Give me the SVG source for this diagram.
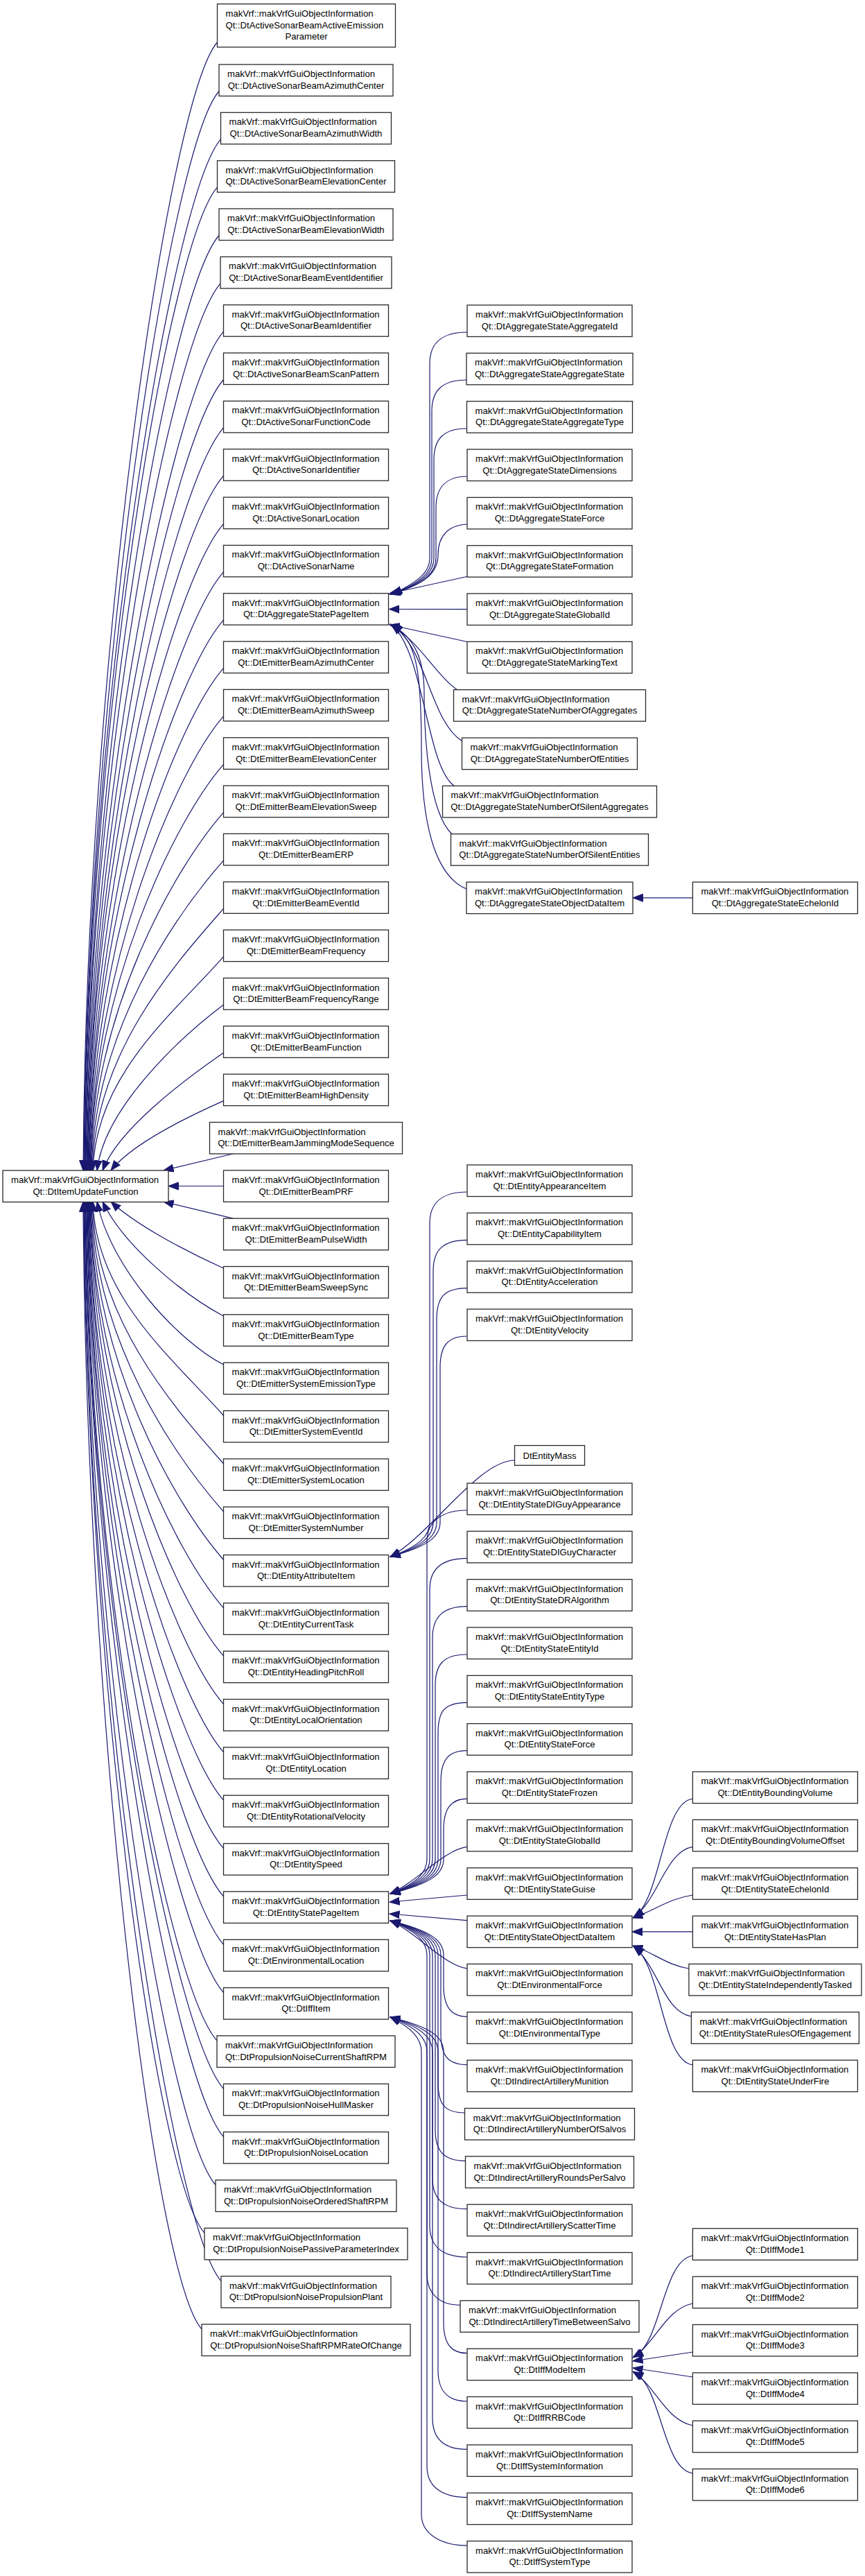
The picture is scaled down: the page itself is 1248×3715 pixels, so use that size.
<svg xmlns="http://www.w3.org/2000/svg" width="1248" height="3715" viewBox="0 0 1248 3715">
<style>
rect{fill:#fff;stroke:#2a2a2a;stroke-width:1.3}
text{font-family:"Liberation Sans",Arial,Helvetica,sans-serif;font-size:13.1px;fill:#000}
.c{text-anchor:middle}
.e path{fill:none;stroke:#191970;stroke-width:1.2;marker-end:url(#a)}
</style>
<defs>
<marker id="a" markerUnits="userSpaceOnUse" markerWidth="16" markerHeight="12" viewBox="0 0 16 12" refX="14.5" refY="6" orient="auto"><path d="M0,0.5 L14.5,6 L0,11.5 z" fill="#191970" stroke="#191970" stroke-width="1"/></marker>
</defs>
<rect x="0" y="0" width="1248" height="3715" style="fill:#fff;stroke:none"/>
<g id="edges" class="e">
<path d="M313.5,61 C243.5,141 124,956 120,1688"/>
<path d="M316,131.5 C246,211.5 125,988 121,1688"/>
<path d="M318.5,200.8 C248.5,280.8 125,1019 121,1688"/>
<path d="M313.5,270.2 C243.5,350.2 126,1050 122,1688"/>
<path d="M316,339.5 C246,419.5 127,1081 123,1688"/>
<path d="M318,408.9 C248,488.9 127,1112 123,1688"/>
<path d="M322.5,478.2 C252.5,558.2 128,1144 124,1688"/>
<path d="M322.5,547.5 C252.5,627.5 129,1175 125,1688"/>
<path d="M322.5,616.9 C252.5,696.9 130,1206 126,1688"/>
<path d="M322.5,686.2 C252.5,766.2 130,1237 126,1688"/>
<path d="M322.5,755.6 C252.5,835.6 131,1268 127,1688"/>
<path d="M322.5,824.9 C252.5,904.9 132,1300 128,1688"/>
<path d="M322.5,894.2 C252.5,974.2 132,1331 128,1688"/>
<path d="M322.5,963.6 C252.5,1043.6 133,1362 129,1688"/>
<path d="M322.5,1032.9 C252.5,1112.9 134,1393 130,1688"/>
<path d="M322.5,1102.3 C252.5,1182.3 134,1424 130,1688"/>
<path d="M322.5,1171.6 C252.5,1251.6 135,1456 131,1688"/>
<path d="M322.5,1240.9 C252.5,1320.9 136,1487 132,1688"/>
<path d="M322.5,1310.3 C252.5,1390.3 137,1518 133,1688"/>
<path d="M322.5,1379.6 C252.5,1459.6 138,1549 134,1688"/>
<path d="M322.5,1449 C255,1500 150,1600 140,1688"/>
<path d="M322.5,1518.3 C262,1560 170,1630 148,1688"/>
<path d="M322.5,1587.6 C272,1610 190,1650 160,1688"/>
<path d="M336,1664 L236,1688"/>
<path d="M322.5,1710.5 L243,1710.5"/>
<path d="M336,1757.2 L236,1733"/>
<path d="M322.5,1829 C280,1810 200,1770 160,1733"/>
<path d="M322.5,1898 C270,1870 180,1800 148,1733"/>
<path d="M322.5,1968 C258,1935 160,1830 140,1733"/>
<path d="M322.5,2041.5 C252.5,1961.5 138,1872 134,1733"/>
<path d="M322.5,2110.9 C252.5,2030.9 137,1903 133,1733"/>
<path d="M322.5,2180.2 C252.5,2100.2 136,1934 132,1733"/>
<path d="M322.5,2249.5 C252.5,2169.5 135,1965 131,1733"/>
<path d="M322.5,2318.9 C252.5,2238.9 134,1997 130,1733"/>
<path d="M322.5,2388.2 C252.5,2308.2 134,2028 130,1733"/>
<path d="M322.5,2457.6 C252.5,2377.6 133,2059 129,1733"/>
<path d="M322.5,2526.9 C252.5,2446.9 132,2090 128,1733"/>
<path d="M322.5,2596.2 C252.5,2516.2 132,2121 128,1733"/>
<path d="M322.5,2665.6 C252.5,2585.6 131,2153 127,1733"/>
<path d="M322.5,2734.9 C252.5,2654.9 130,2184 126,1733"/>
<path d="M322.5,2804.3 C252.5,2724.3 130,2215 126,1733"/>
<path d="M322.5,2873.6 C252.5,2793.6 129,2246 125,1733"/>
<path d="M313,2942.9 C243,2862.9 128,2277 124,1733"/>
<path d="M322.5,3012.3 C252.5,2932.3 127,2309 123,1733"/>
<path d="M322.5,3081.6 C252.5,3001.6 127,2340 123,1733"/>
<path d="M311,3151 C241,3071 126,2371 122,1733"/>
<path d="M295,3220.3 C225,3140.3 125,2402 121,1733"/>
<path d="M319,3289.6 C249,3209.6 125,2433 121,1733"/>
<path d="M291,3359 C221,3279 124,2465 120,1733"/>
<path d="M674,479 C639,479 620,494 620,524 L620,805 C620,825 605,838 566,857"/>
<path d="M673,548 C638,548 623,563 623,593 L623,805 C623,825 608,840 565,857"/>
<path d="M673.5,618 C640,618 626,633 626,663 L626,805 C626,825 611,841 564,857"/>
<path d="M674,687 C645,687 629,702 629,732 L629,805 C629,825 614,842 563,857"/>
<path d="M674,756 C648,757 632,772 632,800 C632,825 615,843 562,857"/>
<path d="M676,831 L562,856"/>
<path d="M674,878.7 L561.5,878.5"/>
<path d="M676,926 L562,901"/>
<path d="M660,995 C630,975 605,925 563,900"/>
<path d="M667,1069 C620,1040 615,930 564,901"/>
<path d="M655,1133 C615,1105 612,940 565,901"/>
<path d="M652,1203 C618,1170 612,1060 612,1000 C612,950 598,920 565,901"/>
<path d="M673,1282 C625,1262 608,1180 608,1080 C608,960 600,925 566,901"/>
<path d="M999.4,1294.8 L913,1294.8"/>
<path d="M674,1719 C639,1719 620,1734 620,1764 L620,2195 C620,2215 605,2230 563,2245"/>
<path d="M674,1788.3 C639,1788.3 625,1803 625,1833 L625,2195 C625,2215 610,2230 563,2245"/>
<path d="M674,1857.7 C639,1857.7 630,1873 630,1903 L630,2195 C630,2215 615,2230 563,2245"/>
<path d="M674,1927 C645,1927 635,1942 635,1972 L635,2195 C635,2215 620,2230 563,2245"/>
<path d="M742.5,2106 C690,2106 620,2215 563,2245"/>
<path d="M674,2178 C639,2178 616,2193 616,2223 L616,2681 C616,2701 601,2716 563,2731"/>
<path d="M674,2247.3 C639,2247.3 620,2262 620,2292 L620,2681 C620,2701 605,2716 563,2731"/>
<path d="M674,2316.7 C639,2316.7 624,2332 624,2362 L624,2681 C624,2701 609,2716 563,2731"/>
<path d="M674,2386 C639,2386 628,2401 628,2431 L628,2681 C628,2701 613,2716 563,2731"/>
<path d="M674,2455.4 C639,2455.4 632,2470 632,2500 L632,2681 C632,2701 617,2716 563,2731"/>
<path d="M674,2524.7 C645,2524.7 636,2540 636,2570 L636,2681 C636,2701 621,2716 563,2731"/>
<path d="M674,2594.1 C650,2594.1 640,2609 640,2639 L640,2681 C640,2701 625,2716 563,2731"/>
<path d="M674,2663.4 C640,2668 600,2715 563,2731"/>
<path d="M674,2733 L562,2743"/>
<path d="M674,2769.6 L562,2760"/>
<path d="M674,2838.9 C640,2834 600,2786 563,2770"/>
<path d="M674,2908.3 C650,2908.3 640,2893 640,2863 L640,2820 C640,2800 625,2785 563,2770"/>
<path d="M674,2977.6 C645,2977.6 636,2963 636,2933 L636,2820 C636,2800 621,2785 563,2770"/>
<path d="M670.5,3047 C639,3047 632,3032 632,3002 L632,2820 C632,2800 617,2785 563,2770"/>
<path d="M671.5,3116.3 C639,3116.3 628,3101 628,3071 L628,2820 C628,2800 613,2785 563,2770"/>
<path d="M674,3185.7 C639,3185.7 624,3171 624,3141 L624,2820 C624,2800 609,2785 563,2770"/>
<path d="M674,3255 C639,3255 620,3240 620,3210 L620,2820 C620,2800 605,2785 563,2770"/>
<path d="M664,3324.3 C635,3324.3 616,3309 616,3279 L616,2820 C616,2800 601,2785 563,2770"/>
<path d="M674,3393.7 C650,3393.7 640,3379 640,3349 L640,2959 C640,2939 625,2924 563,2909"/>
<path d="M674,3463 C645,3463 632,3448 632,3418 L632,2959 C632,2939 617,2924 563,2909"/>
<path d="M674,3532.4 C640,3532.4 624,3517 624,3487 L624,2959 C624,2939 609,2924 563,2909"/>
<path d="M674,3601.7 C639,3601.7 616,3587 616,3557 L616,2959 C616,2939 601,2924 563,2909"/>
<path d="M674,3671.1 C639,3671.1 608,3656 608,3626 L608,2959 C608,2939 593,2924 563,2909"/>
<path d="M999.4,2594 C955,2600 955,2735 915,2765"/>
<path d="M999.4,2663.4 C960,2670 950,2740 914,2765"/>
<path d="M999.4,2733 C965,2738 945,2755 913,2766"/>
<path d="M999.4,2785.9 L912,2785.9"/>
<path d="M993.9,2839 C962,2834 945,2817 913,2806"/>
<path d="M997.4,2908 C958,2902 950,2836 914,2807"/>
<path d="M999.4,2978 C955,2972 955,2837 915,2807"/>
<path d="M999.4,3253 C955,3260 955,3380 914,3399"/>
<path d="M999.4,3322 C960,3330 945,3380 913,3400"/>
<path d="M999.4,3392 L913,3405"/>
<path d="M999.4,3428 L913,3415"/>
<path d="M999.4,3498 C960,3490 945,3440 913,3420"/>
<path d="M999.4,3567 C955,3560 955,3440 914,3421"/>
</g>
<g id="root"><rect x="4" y="1688" width="239" height="45.5"/><text x="16" y="1706">makVrf::makVrfGuiObjectInformation</text><text class="c" x="123.5" y="1722.7">Qt::DtItemUpdateFunction</text></g>
<g id="c2_1"><rect x="313.5" y="5.7" width="257" height="62.3"/><text x="325.5" y="23.7">makVrf::makVrfGuiObjectInformation</text><text x="325.5" y="40.5">Qt::DtActiveSonarBeamActiveEmission</text><text class="c" x="442" y="57.3">Parameter</text></g>
<g id="c2_2"><rect x="316" y="93" width="251" height="45.5"/><text x="328" y="111">makVrf::makVrfGuiObjectInformation</text><text class="c" x="441.5" y="127.7">Qt::DtActiveSonarBeamAzimuthCenter</text></g>
<g id="c2_3"><rect x="318.5" y="162.3" width="246" height="45.5"/><text x="330.5" y="180.3">makVrf::makVrfGuiObjectInformation</text><text class="c" x="441.5" y="197">Qt::DtActiveSonarBeamAzimuthWidth</text></g>
<g id="c2_4"><rect x="313.5" y="231.7" width="256" height="45.5"/><text x="325.5" y="249.7">makVrf::makVrfGuiObjectInformation</text><text class="c" x="441.5" y="266.4">Qt::DtActiveSonarBeamElevationCenter</text></g>
<g id="c2_5"><rect x="316" y="301" width="251" height="45.5"/><text x="328" y="319">makVrf::makVrfGuiObjectInformation</text><text class="c" x="441.5" y="335.7">Qt::DtActiveSonarBeamElevationWidth</text></g>
<g id="c2_6"><rect x="318" y="370.4" width="247" height="45.5"/><text x="330" y="388.4">makVrf::makVrfGuiObjectInformation</text><text class="c" x="441.5" y="405.1">Qt::DtActiveSonarBeamEventIdentifier</text></g>
<g id="c2_7"><rect x="322.5" y="439.7" width="238" height="45.5"/><text x="334.5" y="457.7">makVrf::makVrfGuiObjectInformation</text><text class="c" x="441.5" y="474.4">Qt::DtActiveSonarBeamIdentifier</text></g>
<g id="c2_8"><rect x="322.5" y="509" width="238" height="45.5"/><text x="334.5" y="527">makVrf::makVrfGuiObjectInformation</text><text class="c" x="441.5" y="543.7">Qt::DtActiveSonarBeamScanPattern</text></g>
<g id="c2_9"><rect x="322.5" y="578.4" width="238" height="45.5"/><text x="334.5" y="596.4">makVrf::makVrfGuiObjectInformation</text><text class="c" x="441.5" y="613.1">Qt::DtActiveSonarFunctionCode</text></g>
<g id="c2_10"><rect x="322.5" y="647.7" width="238" height="45.5"/><text x="334.5" y="665.7">makVrf::makVrfGuiObjectInformation</text><text class="c" x="441.5" y="682.4">Qt::DtActiveSonarIdentifier</text></g>
<g id="c2_11"><rect x="322.5" y="717.1" width="238" height="45.5"/><text x="334.5" y="735.1">makVrf::makVrfGuiObjectInformation</text><text class="c" x="441.5" y="751.8">Qt::DtActiveSonarLocation</text></g>
<g id="c2_12"><rect x="322.5" y="786.4" width="238" height="45.5"/><text x="334.5" y="804.4">makVrf::makVrfGuiObjectInformation</text><text class="c" x="441.5" y="821.1">Qt::DtActiveSonarName</text></g>
<g id="c2_13"><rect x="322.5" y="855.7" width="238" height="45.5"/><text x="334.5" y="873.7">makVrf::makVrfGuiObjectInformation</text><text class="c" x="441.5" y="890.4">Qt::DtAggregateStatePageItem</text></g>
<g id="c2_14"><rect x="322.5" y="925.1" width="238" height="45.5"/><text x="334.5" y="943.1">makVrf::makVrfGuiObjectInformation</text><text class="c" x="441.5" y="959.8">Qt::DtEmitterBeamAzimuthCenter</text></g>
<g id="c2_15"><rect x="322.5" y="994.4" width="238" height="45.5"/><text x="334.5" y="1012.4">makVrf::makVrfGuiObjectInformation</text><text class="c" x="441.5" y="1029.1">Qt::DtEmitterBeamAzimuthSweep</text></g>
<g id="c2_16"><rect x="322.5" y="1063.8" width="238" height="45.5"/><text x="334.5" y="1081.8">makVrf::makVrfGuiObjectInformation</text><text class="c" x="441.5" y="1098.5">Qt::DtEmitterBeamElevationCenter</text></g>
<g id="c2_17"><rect x="322.5" y="1133.1" width="238" height="45.5"/><text x="334.5" y="1151.1">makVrf::makVrfGuiObjectInformation</text><text class="c" x="441.5" y="1167.8">Qt::DtEmitterBeamElevationSweep</text></g>
<g id="c2_18"><rect x="322.5" y="1202.4" width="238" height="45.5"/><text x="334.5" y="1220.4">makVrf::makVrfGuiObjectInformation</text><text class="c" x="441.5" y="1237.1">Qt::DtEmitterBeamERP</text></g>
<g id="c2_19"><rect x="322.5" y="1271.8" width="238" height="45.5"/><text x="334.5" y="1289.8">makVrf::makVrfGuiObjectInformation</text><text class="c" x="441.5" y="1306.5">Qt::DtEmitterBeamEventId</text></g>
<g id="c2_20"><rect x="322.5" y="1341.1" width="238" height="45.5"/><text x="334.5" y="1359.1">makVrf::makVrfGuiObjectInformation</text><text class="c" x="441.5" y="1375.8">Qt::DtEmitterBeamFrequency</text></g>
<g id="c2_21"><rect x="322.5" y="1410.5" width="238" height="45.5"/><text x="334.5" y="1428.5">makVrf::makVrfGuiObjectInformation</text><text class="c" x="441.5" y="1445.2">Qt::DtEmitterBeamFrequencyRange</text></g>
<g id="c2_22"><rect x="322.5" y="1479.8" width="238" height="45.5"/><text x="334.5" y="1497.8">makVrf::makVrfGuiObjectInformation</text><text class="c" x="441.5" y="1514.5">Qt::DtEmitterBeamFunction</text></g>
<g id="c2_23"><rect x="322.5" y="1549.1" width="238" height="45.5"/><text x="334.5" y="1567.1">makVrf::makVrfGuiObjectInformation</text><text class="c" x="441.5" y="1583.8">Qt::DtEmitterBeamHighDensity</text></g>
<g id="c2_24"><rect x="302.5" y="1618.5" width="278" height="45.5"/><text x="314.5" y="1636.5">makVrf::makVrfGuiObjectInformation</text><text class="c" x="441.5" y="1653.2">Qt::DtEmitterBeamJammingModeSequence</text></g>
<g id="c2_25"><rect x="322.5" y="1687.8" width="238" height="45.5"/><text x="334.5" y="1705.8">makVrf::makVrfGuiObjectInformation</text><text class="c" x="441.5" y="1722.5">Qt::DtEmitterBeamPRF</text></g>
<g id="c2_26"><rect x="322.5" y="1757.2" width="238" height="45.5"/><text x="334.5" y="1775.2">makVrf::makVrfGuiObjectInformation</text><text class="c" x="441.5" y="1791.9">Qt::DtEmitterBeamPulseWidth</text></g>
<g id="c2_27"><rect x="322.5" y="1826.5" width="238" height="45.5"/><text x="334.5" y="1844.5">makVrf::makVrfGuiObjectInformation</text><text class="c" x="441.5" y="1861.2">Qt::DtEmitterBeamSweepSync</text></g>
<g id="c2_28"><rect x="322.5" y="1895.8" width="238" height="45.5"/><text x="334.5" y="1913.8">makVrf::makVrfGuiObjectInformation</text><text class="c" x="441.5" y="1930.5">Qt::DtEmitterBeamType</text></g>
<g id="c2_29"><rect x="322.5" y="1965.2" width="238" height="45.5"/><text x="334.5" y="1983.2">makVrf::makVrfGuiObjectInformation</text><text class="c" x="441.5" y="1999.9">Qt::DtEmitterSystemEmissionType</text></g>
<g id="c2_30"><rect x="322.5" y="2034.5" width="238" height="45.5"/><text x="334.5" y="2052.5">makVrf::makVrfGuiObjectInformation</text><text class="c" x="441.5" y="2069.2">Qt::DtEmitterSystemEventId</text></g>
<g id="c2_31"><rect x="322.5" y="2103.9" width="238" height="45.5"/><text x="334.5" y="2121.9">makVrf::makVrfGuiObjectInformation</text><text class="c" x="441.5" y="2138.6">Qt::DtEmitterSystemLocation</text></g>
<g id="c2_32"><rect x="322.5" y="2173.2" width="238" height="45.5"/><text x="334.5" y="2191.2">makVrf::makVrfGuiObjectInformation</text><text class="c" x="441.5" y="2207.9">Qt::DtEmitterSystemNumber</text></g>
<g id="c2_33"><rect x="322.5" y="2242.5" width="238" height="45.5"/><text x="334.5" y="2260.5">makVrf::makVrfGuiObjectInformation</text><text class="c" x="441.5" y="2277.2">Qt::DtEntityAttributeItem</text></g>
<g id="c2_34"><rect x="322.5" y="2311.9" width="238" height="45.5"/><text x="334.5" y="2329.9">makVrf::makVrfGuiObjectInformation</text><text class="c" x="441.5" y="2346.6">Qt::DtEntityCurrentTask</text></g>
<g id="c2_35"><rect x="322.5" y="2381.2" width="238" height="45.5"/><text x="334.5" y="2399.2">makVrf::makVrfGuiObjectInformation</text><text class="c" x="441.5" y="2415.9">Qt::DtEntityHeadingPitchRoll</text></g>
<g id="c2_36"><rect x="322.5" y="2450.6" width="238" height="45.5"/><text x="334.5" y="2468.6">makVrf::makVrfGuiObjectInformation</text><text class="c" x="441.5" y="2485.3">Qt::DtEntityLocalOrientation</text></g>
<g id="c2_37"><rect x="322.5" y="2519.9" width="238" height="45.5"/><text x="334.5" y="2537.9">makVrf::makVrfGuiObjectInformation</text><text class="c" x="441.5" y="2554.6">Qt::DtEntityLocation</text></g>
<g id="c2_38"><rect x="322.5" y="2589.2" width="238" height="45.5"/><text x="334.5" y="2607.2">makVrf::makVrfGuiObjectInformation</text><text class="c" x="441.5" y="2623.9">Qt::DtEntityRotationalVelocity</text></g>
<g id="c2_39"><rect x="322.5" y="2658.6" width="238" height="45.5"/><text x="334.5" y="2676.6">makVrf::makVrfGuiObjectInformation</text><text class="c" x="441.5" y="2693.3">Qt::DtEntitySpeed</text></g>
<g id="c2_40"><rect x="322.5" y="2727.9" width="238" height="45.5"/><text x="334.5" y="2745.9">makVrf::makVrfGuiObjectInformation</text><text class="c" x="441.5" y="2762.6">Qt::DtEntityStatePageItem</text></g>
<g id="c2_41"><rect x="322.5" y="2797.3" width="238" height="45.5"/><text x="334.5" y="2815.3">makVrf::makVrfGuiObjectInformation</text><text class="c" x="441.5" y="2832">Qt::DtEnvironmentalLocation</text></g>
<g id="c2_42"><rect x="322.5" y="2866.6" width="238" height="45.5"/><text x="334.5" y="2884.6">makVrf::makVrfGuiObjectInformation</text><text class="c" x="441.5" y="2901.3">Qt::DtIffItem</text></g>
<g id="c2_43"><rect x="313" y="2935.9" width="257" height="45.5"/><text x="325" y="2953.9">makVrf::makVrfGuiObjectInformation</text><text class="c" x="441.5" y="2970.6">Qt::DtPropulsionNoiseCurrentShaftRPM</text></g>
<g id="c2_44"><rect x="322.5" y="3005.3" width="238" height="45.5"/><text x="334.5" y="3023.3">makVrf::makVrfGuiObjectInformation</text><text class="c" x="441.5" y="3040">Qt::DtPropulsionNoiseHullMasker</text></g>
<g id="c2_45"><rect x="322.5" y="3074.6" width="238" height="45.5"/><text x="334.5" y="3092.6">makVrf::makVrfGuiObjectInformation</text><text class="c" x="441.5" y="3109.3">Qt::DtPropulsionNoiseLocation</text></g>
<g id="c2_46"><rect x="311" y="3144" width="261" height="45.5"/><text x="323" y="3162">makVrf::makVrfGuiObjectInformation</text><text class="c" x="441.5" y="3178.7">Qt::DtPropulsionNoiseOrderedShaftRPM</text></g>
<g id="c2_47"><rect x="295" y="3213.3" width="293" height="45.5"/><text x="307" y="3231.3">makVrf::makVrfGuiObjectInformation</text><text class="c" x="441.5" y="3248">Qt::DtPropulsionNoisePassiveParameterIndex</text></g>
<g id="c2_48"><rect x="319" y="3282.6" width="245" height="45.5"/><text x="331" y="3300.6">makVrf::makVrfGuiObjectInformation</text><text class="c" x="441.5" y="3317.3">Qt::DtPropulsionNoisePropulsionPlant</text></g>
<g id="c2_49"><rect x="291" y="3352" width="301" height="45.5"/><text x="303" y="3370">makVrf::makVrfGuiObjectInformation</text><text class="c" x="441.5" y="3386.7">Qt::DtPropulsionNoiseShaftRPMRateOfChange</text></g>
<g id="a1"><rect x="674" y="440" width="238" height="45.5"/><text x="686" y="458">makVrf::makVrfGuiObjectInformation</text><text class="c" x="793" y="474.7">Qt::DtAggregateStateAggregateId</text></g>
<g id="a2"><rect x="673" y="509.3" width="240" height="45.5"/><text x="685" y="527.3">makVrf::makVrfGuiObjectInformation</text><text class="c" x="793" y="544">Qt::DtAggregateStateAggregateState</text></g>
<g id="a3"><rect x="673.5" y="578.7" width="239" height="45.5"/><text x="685.5" y="596.7">makVrf::makVrfGuiObjectInformation</text><text class="c" x="793" y="613.4">Qt::DtAggregateStateAggregateType</text></g>
<g id="a4"><rect x="674" y="648" width="238" height="45.5"/><text x="686" y="666">makVrf::makVrfGuiObjectInformation</text><text class="c" x="793" y="682.7">Qt::DtAggregateStateDimensions</text></g>
<g id="a5"><rect x="674" y="717.4" width="238" height="45.5"/><text x="686" y="735.4">makVrf::makVrfGuiObjectInformation</text><text class="c" x="793" y="752.1">Qt::DtAggregateStateForce</text></g>
<g id="a6"><rect x="674" y="786.7" width="238" height="45.5"/><text x="686" y="804.7">makVrf::makVrfGuiObjectInformation</text><text class="c" x="793" y="821.4">Qt::DtAggregateStateFormation</text></g>
<g id="a7"><rect x="674" y="856" width="238" height="45.5"/><text x="686" y="874">makVrf::makVrfGuiObjectInformation</text><text class="c" x="793" y="890.7">Qt::DtAggregateStateGlobalId</text></g>
<g id="a8"><rect x="674" y="925.4" width="238" height="45.5"/><text x="686" y="943.4">makVrf::makVrfGuiObjectInformation</text><text class="c" x="793" y="960.1">Qt::DtAggregateStateMarkingText</text></g>
<g id="a9"><rect x="654.5" y="994.7" width="277" height="45.5"/><text x="666.5" y="1012.7">makVrf::makVrfGuiObjectInformation</text><text class="c" x="793" y="1029.4">Qt::DtAggregateStateNumberOfAggregates</text></g>
<g id="a10"><rect x="666.5" y="1064.1" width="253" height="45.5"/><text x="678.5" y="1082.1">makVrf::makVrfGuiObjectInformation</text><text class="c" x="793" y="1098.8">Qt::DtAggregateStateNumberOfEntities</text></g>
<g id="a11"><rect x="638.5" y="1133.4" width="309" height="45.5"/><text x="650.5" y="1151.4">makVrf::makVrfGuiObjectInformation</text><text class="c" x="793" y="1168.1">Qt::DtAggregateStateNumberOfSilentAggregates</text></g>
<g id="a12"><rect x="650.5" y="1202.7" width="285" height="45.5"/><text x="662.5" y="1220.7">makVrf::makVrfGuiObjectInformation</text><text class="c" x="793" y="1237.4">Qt::DtAggregateStateNumberOfSilentEntities</text></g>
<g id="a13"><rect x="673" y="1272.1" width="240" height="45.5"/><text x="685" y="1290.1">makVrf::makVrfGuiObjectInformation</text><text class="c" x="793" y="1306.8">Qt::DtAggregateStateObjectDataItem</text></g>
<g id="a14"><rect x="999.4" y="1272.1" width="238" height="45.5"/><text x="1011.4" y="1290.1">makVrf::makVrfGuiObjectInformation</text><text class="c" x="1118.4" y="1306.8">Qt::DtAggregateStateEchelonId</text></g>
<g id="e1"><rect x="674" y="1680" width="238" height="45.5"/><text x="686" y="1698">makVrf::makVrfGuiObjectInformation</text><text class="c" x="793" y="1714.7">Qt::DtEntityAppearanceItem</text></g>
<g id="e2"><rect x="674" y="1749.3" width="238" height="45.5"/><text x="686" y="1767.3">makVrf::makVrfGuiObjectInformation</text><text class="c" x="793" y="1784">Qt::DtEntityCapabilityItem</text></g>
<g id="e3"><rect x="674" y="1818.7" width="238" height="45.5"/><text x="686" y="1836.7">makVrf::makVrfGuiObjectInformation</text><text class="c" x="793" y="1853.4">Qt::DtEntityAcceleration</text></g>
<g id="e4"><rect x="674" y="1888" width="238" height="45.5"/><text x="686" y="1906">makVrf::makVrfGuiObjectInformation</text><text class="c" x="793" y="1922.7">Qt::DtEntityVelocity</text></g>
<g id="e5"><rect x="742.5" y="2084.6" width="101" height="28.7"/><text class="c" x="793" y="2103.5">DtEntityMass</text></g>
<g id="e6"><rect x="674" y="2139" width="238" height="45.5"/><text x="686" y="2157">makVrf::makVrfGuiObjectInformation</text><text class="c" x="793" y="2173.7">Qt::DtEntityStateDIGuyAppearance</text></g>
<g id="e7"><rect x="674" y="2208.3" width="238" height="45.5"/><text x="686" y="2226.3">makVrf::makVrfGuiObjectInformation</text><text class="c" x="793" y="2243">Qt::DtEntityStateDIGuyCharacter</text></g>
<g id="e8"><rect x="674" y="2277.7" width="238" height="45.5"/><text x="686" y="2295.7">makVrf::makVrfGuiObjectInformation</text><text class="c" x="793" y="2312.4">Qt::DtEntityStateDRAlgorithm</text></g>
<g id="e9"><rect x="674" y="2347" width="238" height="45.5"/><text x="686" y="2365">makVrf::makVrfGuiObjectInformation</text><text class="c" x="793" y="2381.7">Qt::DtEntityStateEntityId</text></g>
<g id="e10"><rect x="674" y="2416.4" width="238" height="45.5"/><text x="686" y="2434.4">makVrf::makVrfGuiObjectInformation</text><text class="c" x="793" y="2451.1">Qt::DtEntityStateEntityType</text></g>
<g id="e11"><rect x="674" y="2485.7" width="238" height="45.5"/><text x="686" y="2503.7">makVrf::makVrfGuiObjectInformation</text><text class="c" x="793" y="2520.4">Qt::DtEntityStateForce</text></g>
<g id="e12"><rect x="674" y="2555.1" width="238" height="45.5"/><text x="686" y="2573.1">makVrf::makVrfGuiObjectInformation</text><text class="c" x="793" y="2589.8">Qt::DtEntityStateFrozen</text></g>
<g id="e13"><rect x="674" y="2624.4" width="238" height="45.5"/><text x="686" y="2642.4">makVrf::makVrfGuiObjectInformation</text><text class="c" x="793" y="2659.1">Qt::DtEntityStateGlobalId</text></g>
<g id="e14"><rect x="674" y="2693.8" width="238" height="45.5"/><text x="686" y="2711.8">makVrf::makVrfGuiObjectInformation</text><text class="c" x="793" y="2728.5">Qt::DtEntityStateGuise</text></g>
<g id="e15"><rect x="674" y="2763.1" width="238" height="45.5"/><text x="686" y="2781.1">makVrf::makVrfGuiObjectInformation</text><text class="c" x="793" y="2797.8">Qt::DtEntityStateObjectDataItem</text></g>
<g id="e16"><rect x="674" y="2832.4" width="238" height="45.5"/><text x="686" y="2850.4">makVrf::makVrfGuiObjectInformation</text><text class="c" x="793" y="2867.1">Qt::DtEnvironmentalForce</text></g>
<g id="e17"><rect x="674" y="2901.8" width="238" height="45.5"/><text x="686" y="2919.8">makVrf::makVrfGuiObjectInformation</text><text class="c" x="793" y="2936.5">Qt::DtEnvironmentalType</text></g>
<g id="e18"><rect x="674" y="2971.1" width="238" height="45.5"/><text x="686" y="2989.1">makVrf::makVrfGuiObjectInformation</text><text class="c" x="793" y="3005.8">Qt::DtIndirectArtilleryMunition</text></g>
<g id="e19"><rect x="670.5" y="3040.5" width="245" height="45.5"/><text x="682.5" y="3058.5">makVrf::makVrfGuiObjectInformation</text><text class="c" x="793" y="3075.2">Qt::DtIndirectArtilleryNumberOfSalvos</text></g>
<g id="e20"><rect x="671.5" y="3109.8" width="243" height="45.5"/><text x="683.5" y="3127.8">makVrf::makVrfGuiObjectInformation</text><text class="c" x="793" y="3144.5">Qt::DtIndirectArtilleryRoundsPerSalvo</text></g>
<g id="e21"><rect x="674" y="3179.2" width="238" height="45.5"/><text x="686" y="3197.2">makVrf::makVrfGuiObjectInformation</text><text class="c" x="793" y="3213.9">Qt::DtIndirectArtilleryScatterTime</text></g>
<g id="e22"><rect x="674" y="3248.5" width="238" height="45.5"/><text x="686" y="3266.5">makVrf::makVrfGuiObjectInformation</text><text class="c" x="793" y="3283.2">Qt::DtIndirectArtilleryStartTime</text></g>
<g id="e23"><rect x="664" y="3317.8" width="258" height="45.5"/><text x="676" y="3335.8">makVrf::makVrfGuiObjectInformation</text><text class="c" x="793" y="3352.5">Qt::DtIndirectArtilleryTimeBetweenSalvo</text></g>
<g id="e24"><rect x="674" y="3387.2" width="238" height="45.5"/><text x="686" y="3405.2">makVrf::makVrfGuiObjectInformation</text><text class="c" x="793" y="3421.9">Qt::DtIffModeItem</text></g>
<g id="e25"><rect x="674" y="3456.5" width="238" height="45.5"/><text x="686" y="3474.5">makVrf::makVrfGuiObjectInformation</text><text class="c" x="793" y="3491.2">Qt::DtIffRRBCode</text></g>
<g id="e26"><rect x="674" y="3525.9" width="238" height="45.5"/><text x="686" y="3543.9">makVrf::makVrfGuiObjectInformation</text><text class="c" x="793" y="3560.6">Qt::DtIffSystemInformation</text></g>
<g id="e27"><rect x="674" y="3595.2" width="238" height="45.5"/><text x="686" y="3613.2">makVrf::makVrfGuiObjectInformation</text><text class="c" x="793" y="3629.9">Qt::DtIffSystemName</text></g>
<g id="e28"><rect x="674" y="3664.6" width="238" height="45.5"/><text x="686" y="3682.6">makVrf::makVrfGuiObjectInformation</text><text class="c" x="793" y="3699.3">Qt::DtIffSystemType</text></g>
<g id="s1"><rect x="999.4" y="2555.1" width="238" height="45.5"/><text x="1011.4" y="2573.1">makVrf::makVrfGuiObjectInformation</text><text class="c" x="1118.4" y="2589.8">Qt::DtEntityBoundingVolume</text></g>
<g id="s2"><rect x="999.4" y="2624.4" width="238" height="45.5"/><text x="1011.4" y="2642.4">makVrf::makVrfGuiObjectInformation</text><text class="c" x="1118.4" y="2659.1">Qt::DtEntityBoundingVolumeOffset</text></g>
<g id="s3"><rect x="999.4" y="2693.8" width="238" height="45.5"/><text x="1011.4" y="2711.8">makVrf::makVrfGuiObjectInformation</text><text class="c" x="1118.4" y="2728.5">Qt::DtEntityStateEchelonId</text></g>
<g id="s4"><rect x="999.4" y="2763.1" width="238" height="45.5"/><text x="1011.4" y="2781.1">makVrf::makVrfGuiObjectInformation</text><text class="c" x="1118.4" y="2797.8">Qt::DtEntityStateHasPlan</text></g>
<g id="s5"><rect x="993.9" y="2832.4" width="249" height="45.5"/><text x="1005.9" y="2850.4">makVrf::makVrfGuiObjectInformation</text><text class="c" x="1118.4" y="2867.1">Qt::DtEntityStateIndependentlyTasked</text></g>
<g id="s6"><rect x="997.4" y="2901.8" width="242" height="45.5"/><text x="1009.4" y="2919.8">makVrf::makVrfGuiObjectInformation</text><text class="c" x="1118.4" y="2936.5">Qt::DtEntityStateRulesOfEngagement</text></g>
<g id="s7"><rect x="999.4" y="2971.1" width="238" height="45.5"/><text x="1011.4" y="2989.1">makVrf::makVrfGuiObjectInformation</text><text class="c" x="1118.4" y="3005.8">Qt::DtEntityStateUnderFire</text></g>
<g id="m1"><rect x="999.4" y="3213.8" width="238" height="45.5"/><text x="1011.4" y="3231.8">makVrf::makVrfGuiObjectInformation</text><text class="c" x="1118.4" y="3248.5">Qt::DtIffMode1</text></g>
<g id="m2"><rect x="999.4" y="3283.2" width="238" height="45.5"/><text x="1011.4" y="3301.2">makVrf::makVrfGuiObjectInformation</text><text class="c" x="1118.4" y="3317.9">Qt::DtIffMode2</text></g>
<g id="m3"><rect x="999.4" y="3352.5" width="238" height="45.5"/><text x="1011.4" y="3370.5">makVrf::makVrfGuiObjectInformation</text><text class="c" x="1118.4" y="3387.2">Qt::DtIffMode3</text></g>
<g id="m4"><rect x="999.4" y="3421.9" width="238" height="45.5"/><text x="1011.4" y="3439.9">makVrf::makVrfGuiObjectInformation</text><text class="c" x="1118.4" y="3456.6">Qt::DtIffMode4</text></g>
<g id="m5"><rect x="999.4" y="3491.2" width="238" height="45.5"/><text x="1011.4" y="3509.2">makVrf::makVrfGuiObjectInformation</text><text class="c" x="1118.4" y="3525.9">Qt::DtIffMode5</text></g>
<g id="m6"><rect x="999.4" y="3560.6" width="238" height="45.5"/><text x="1011.4" y="3578.6">makVrf::makVrfGuiObjectInformation</text><text class="c" x="1118.4" y="3595.3">Qt::DtIffMode6</text></g>
</svg>
